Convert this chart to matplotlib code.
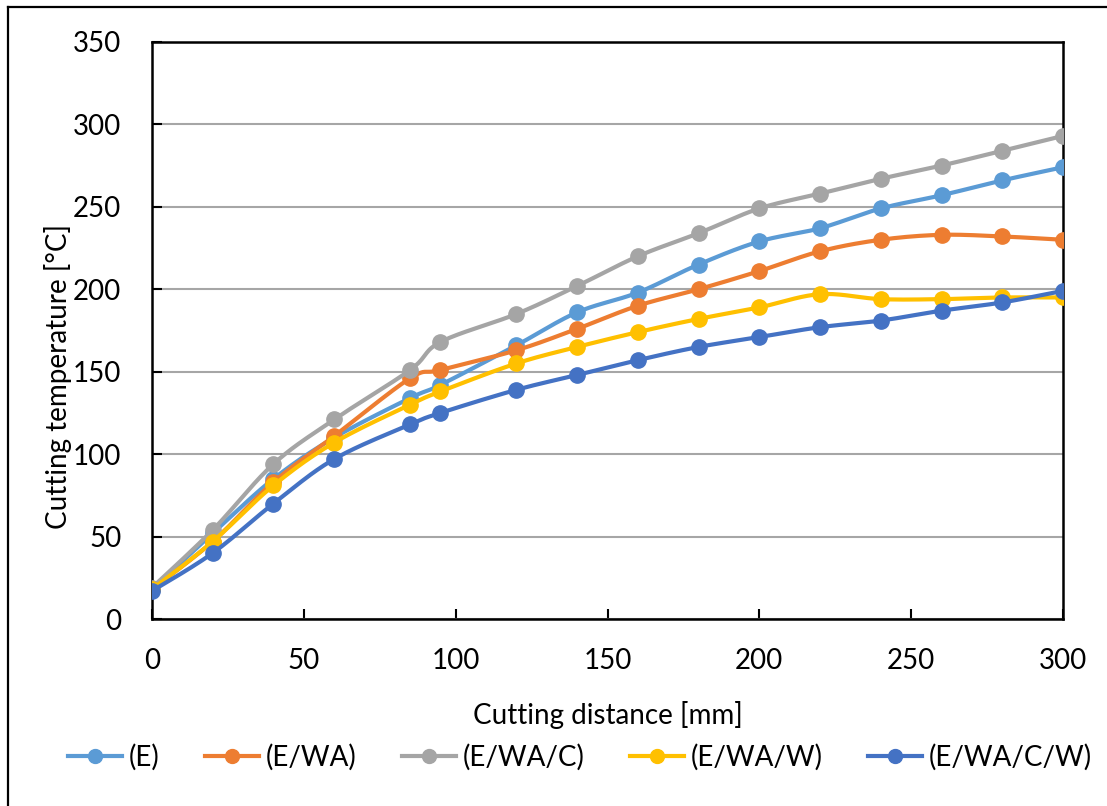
import numpy as np
import matplotlib
matplotlib.use("Agg")
import matplotlib.pyplot as plt
from matplotlib.lines import Line2D

plt.rcParams['font.family'] = ['Lato', 'DejaVu Sans']

# data
distance = [0, 20, 40, 60, 85, 95, 120, 140, 160, 180, 200, 220, 240, 260, 280, 300]
temp_E = [18, 52, 85, 110, 134, 142, 166, 186, 198, 215, 229, 237, 249, 257, 266, 274]
temp_EWA = [18, 47, 83, 111, 146, 151, 163, 176, 190, 200, 211, 223, 230, 233, 232, 230]
temp_EWAC = [19, 54, 94, 121, 151, 168, 185, 202, 220, 234, 249, 258, 267, 275, 284, 293]
temp_EWAW = [18, 47, 81, 107, 130, 138, 155, 165, 174, 182, 189, 197, 194, 194, 195, 195]
temp_EWACW = [17, 40, 70, 97, 118, 125, 139, 148, 157, 165, 171, 177, 181, 187, 192, 199]

labels = ["(E)", "(E/WA)", "(E/WA/C)", "(E/WA/W)", "(E/WA/C/W)"]
colors = ["#5B9BD5", "#ED7D31", "#A5A5A5", "#FFC000", "#4472C4"]
series = [temp_E, temp_EWA, temp_EWAC, temp_EWAW, temp_EWACW]


def smooth(xs, ys, sx=3.037, sy=1.65, n=20):
    # Excel-like smoothed line (Catmull-Rom through the points)
    P = np.column_stack([np.array(xs) * sx, np.array(ys) * sy])
    P = np.vstack([P[0], P, P[-1]])
    out = []
    t = np.linspace(0, 1, n)[:, None]
    for i in range(1, len(P) - 2):
        p0, p1, p2, p3 = P[i - 1], P[i], P[i + 1], P[i + 2]
        c1 = p1 + (p2 - p0) / 6
        c2 = p2 - (p3 - p1) / 6
        seg = ((1 - t) ** 3) * p1 + 3 * ((1 - t) ** 2) * t * c1 + 3 * (1 - t) * t ** 2 * c2 + t ** 3 * p2
        out.append(seg)
    out = np.vstack(out)
    return out[:, 0] / sx, out[:, 1] / sy


fig = plt.figure(figsize=(11.07, 8.06), dpi=100)
ax = fig.add_axes([0.1373, 0.232, 0.823, 0.716])

for ys, lab, c in zip(series, labels, colors):
    sx_, sy_ = smooth(distance, ys)
    ax.plot(sx_, sy_, color=c, lw=3, solid_capstyle='round', zorder=3)
    ax.plot(distance, ys, 'o', color=c, ms=11, zorder=3)
    ax.plot([], [], '-o', color=c, lw=3, ms=10, label=lab)

ax.set_xlim(0, 300)
ax.set_ylim(0, 350)
ax.set_xticks(range(0, 301, 50))
ax.set_yticks(range(0, 351, 50))
ax.grid(axis='y', color='#a6a6a6', lw=1.5)
ax.set_axisbelow(True)
ax.tick_params(direction='in', length=7, width=1.5, labelsize=20, pad=21)
ax.tick_params(axis='y', pad=22)
for s in ['left', 'bottom', 'right', 'top']:
    ax.spines[s].set_linewidth(1.8)

ax.set_xlabel("Cutting distance [mm]", fontsize=20, labelpad=19)
ax.set_ylabel("Cutting temperature [°C]", fontsize=20)
ax.yaxis.set_label_coords(-0.088, 0.42)

fig.legend(loc='center', bbox_to_anchor=(0.524, 0.061), ncol=5, frameon=False,
           fontsize=20, handlelength=1.95, handletextpad=0.25, columnspacing=1.62)

# chart frame (only left and top edges show in the reference)
fig.add_artist(Line2D([0.007, 0.007], [0, 0.991], transform=fig.transFigure, color='black', lw=1.6))
fig.add_artist(Line2D([0.007, 1], [0.991, 0.991], transform=fig.transFigure, color='black', lw=1.6))

fig.savefig("out.png", dpi=100)
